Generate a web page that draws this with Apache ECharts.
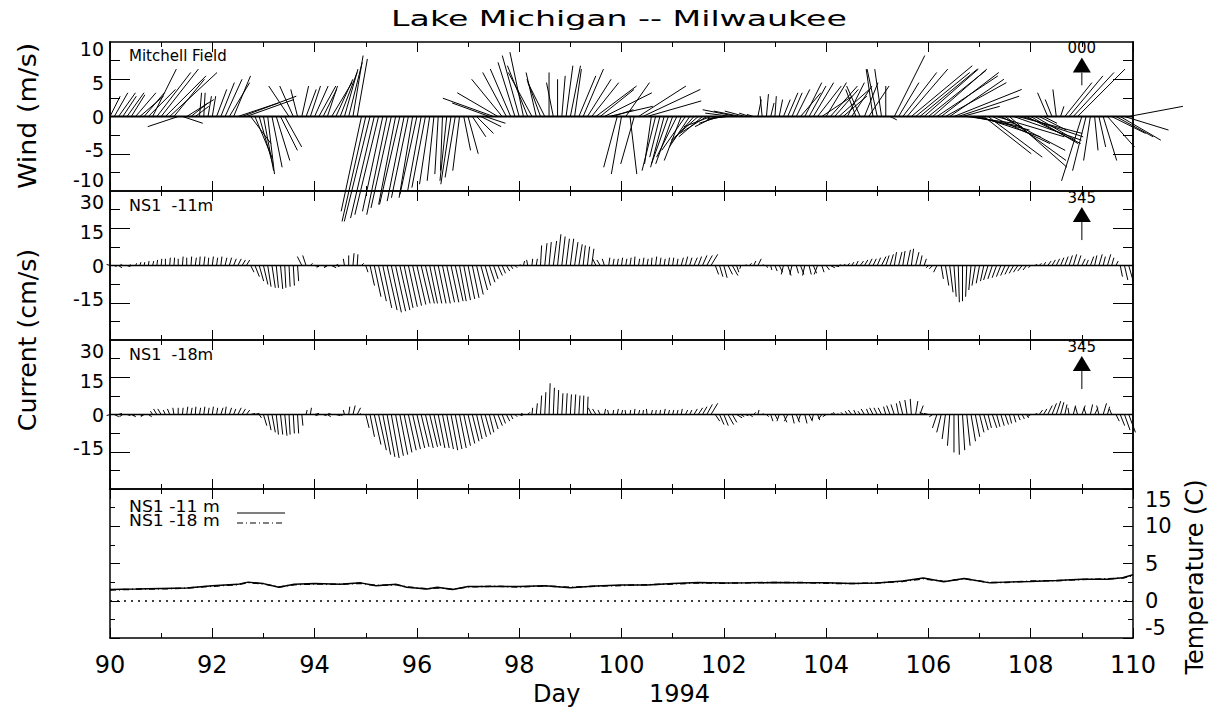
<!DOCTYPE html>
<html><head><meta charset="utf-8">
<script src="https://cdn.jsdelivr.net/npm/echarts@6/dist/echarts.min.js"></script>
<style>html,body{margin:0;padding:0;background:#fff}#c{width:1217px;height:719px}</style>
</head><body><div id="c"></div><script>
// ---------------- data ----------------
const dayMin = 90, dayMax = 110;
const xTickLabels = [90, 92, 94, 96, 98, 100, 102, 104, 106, 108, 110];
// Wind (m/s), Mitchell Field, 2-hourly samples starting day 90 (12 per day)
const windStart = 90, windStep = 1 / 12;
const windU = [
 1.5,2,2.5,2,2.5,2,3,3.5,3,4,3.5,5,
 5.5,6,7,4.5,-4.5,3,4,2.5,2,0.3,0.2,0.5,
 0.5,1.5,2,2.5,3,2.5,6,8,7,3,2.5,2,
 1.5,1,1.5,2,2.5,2.5,-3,-2,-1,1,1.5,1.5,
 2,2.5,2,1.5,3,2.5,2.5,2,2,1.5,1.5,-3,
 -3.5,-3.8,-3.5,-3.5,-3,-3,-3,-2.5,-3,-2.5,-2.5,-2,
 -2.5,-2,-2,-1.5,-1,-0.5,-0.3,-1,-1.5,-1.5,-1,1,
 1.5,2,2.5,3,3,-5.5,-7.5,-6,-4.5,-3.5,-3,-2.5,
 -2.5,-2,-3,-3.5,-1.5,-2,-2.5,0,-1,0,0.5,1,
 1.5,1,2.5,3,3.5,4,6,5,7,6.5,3,-2,
 -1.5,3.5,1,-2,7,8.5,8,-1,-2,-1.5,-2,-2.5,
 -2.5,-3,-2.5,-3.5,-3,-3.5,-4,-3.5,-4,-4,-3,-3,
 -2.5,-3,-4,-5,-4,-3,-1.5,-1,0.5,-0.3,0.3,0.5,
 0.2,0.5,1,1.5,1.5,2,3,2.5,2.5,3,3.5,4.5,
 3,4,3.5,4.5,3.5,2.5,3,-1.5,-2,2,3,-1,
 -1.5,-1,0,1,4.5,3,5,6,9,8,8.5,8,
 8.5,8,9,8.5,9,8,10,9,5.5,7,7.5,8,
 9,7,8,8.5,10,9.5,9,8.5,10,9.5,9,8,
 7,6,4,2,-1.5,-1,-0.5,0.5,4,5,6,7,
 -3,-2,-1,0.5,1,2,4,5,5.5,6,6.5,8
];
const windV = [
 3,3.5,3.5,3,3.5,3.2,3.5,3,3.5,4,7,6.5,
 7,6,6.5,5.5,-1.5,-1,2.5,2,1.5,3.5,3.5,3,
 3,4,5,5.5,5,6,2,3,2.5,-4,-6,-7,
 -8,-8.5,-7.5,-6.5,-5,-4.5,4.5,4.5,4,4.5,4,4.5,
 4.5,4.5,4,4.5,5,5.5,6.5,7,8,9,8.5,-14,
 -15.5,-15.5,-15,-14.5,-14,-14.5,-13.5,-13,-13,-12.5,-12,-12,
 -11.5,-11,-10.5,-10,-9.5,-8.5,-8,-9.5,-10,-9,-8,-5,
 -5.5,-3,-2.5,-1.5,-1,2,2.7,3.5,5.5,6.5,7,8,
 9,9.5,7.5,6.5,6.5,5.5,5,6.5,5,5.5,6,7.5,
 7.5,7,6,7,5.5,5,4.5,4,3.5,1.5,1,-7.5,
 -8.5,5,-8.5,-7,4.5,4,2.3,-7,-8,-6,-7.5,-7,
 -7,-6,-6.5,-5,-4.5,-4,-3.5,-3,-2.5,-1.5,-1.5,-1,
 -0.5,-0.3,0.5,1,0.8,0.8,0.5,0.3,2.5,3,3.3,2,
 3,2.5,2.5,3.5,3.5,4,3.5,5,4.5,5,4.5,3,
 5,4.5,4,4,3,5,4.5,4,4.5,5,4.5,7,
 7,7,4.5,-0.5,9,5,6.5,7,7.5,6.5,7,7,
 6.8,7,6,6.5,5,5.5,4,3,1.5,-1,-1.5,-2,
 -3,-5.5,-6,-4,-3,-5,-6.5,-7.5,-3.5,-2.5,-3,-4,
 -4,-3.5,-2,-1,3.5,2.5,4,1.5,5,6,6.5,7,
 -9.5,-8,-6.5,-5,-4.5,-6.5,-4.5,-2.5,-3,-3.5,-2,1.5
];
// Currents (cm/s), 2-hourly samples starting day 90
const curStart = 90, curStep = 1 / 12;
const cur11U = [
 -1.5,1,1.5,-1,1.5,-0.5,0.5,0.5,0.3,0.3,0.5,0.3,
 0.3,0,0.3,0.3,0,0.3,0,0.3,0.5,0.3,0.5,0.3,
 0.5,0.5,0.5,0.8,1,1.2,1.5,1.5,1.5,1.5,2,2,
 2,1.5,1.5,1,1,0.5,0.5,0.5,0.5,-2,-1.5,1,
 2,-1,1.5,-1.5,2,1,-1,-0.5,0,0.5,0.3,1,
 1,2,3,3.5,4,4.5,4.5,4.5,4.5,4,4,4,
 4,4,4,3.5,3.5,3.5,3.5,3.5,3.5,3.5,3,3,
 3,3,3,3,2.5,2.5,2,2,1.5,1.5,1,1,
 0.5,0.5,-0.5,0.3,0.5,0.5,1,1,1.5,1.5,1.5,1.5,
 1.5,1.5,1.5,1,1,1,-1.5,-1.5,-1,0.5,0.5,0.5,
 0.5,0.5,0.5,0.3,0.5,0.5,0.5,0.3,0.5,0.5,0.5,0.5,
 0.5,0.5,1,1,1,1.5,1.5,2,2.5,3,1.5,1.5,
 1.5,2,2.5,1,-0.5,0.5,1,1,1.5,0.5,0.5,0.5,
 1,1.5,-1,1.5,-1,1,1.5,-1,1,1.5,-1.5,1,
 1.5,2,2,1,1,1,1,1,1.5,1.5,1.5,1.5,
 1.5,2,1.5,1.5,1,1.5,1,1.5,1,1.5,1,1,
 -1,-1.5,-1.5,1,1.5,1.5,1,0.5,0,-0.5,-1,-1.5,
 -1.5,-1.5,-2,-2,-2,-2,-2,-2,-2,-2,-2,-1.5,
 -1,1,1,1,1.5,1.5,1.5,1.5,1.5,1.5,1.5,1.5,
 1.5,1,1.5,1,1.5,1,1.5,1,1,1,1.5,2
];
const cur11V = [
 0.5,-0.5,-1,0.5,-0.5,0.5,1,1.5,1.5,2,2,2.5,
 3,3,3.5,3.5,3,4,3.5,4,3.5,4,4,3.5,
 4,3.5,4,3.5,3.5,3,3,2.5,2.5,-3,-5,-7,
 -8.5,-9.5,-10,-10,-10.5,-10,-9.5,-9,-7,4,4.5,1,
 -0.5,-1,-0.5,-1,-1,0.5,-0.5,3,4.5,5.5,5,1,
 -3,-9,-14,-16,-19,-20,-21,-20.5,-20,-19,-18.5,-18,
 -17.5,-17,-17,-17,-17,-17,-17,-16.5,-16.5,-16,-16,-15.5,
 -15,-14.5,-13,-11,-9,-7.5,-6,-4.5,-3.5,-2.5,-1.5,-1,
 0.5,2,2.5,3,3,9,10,10.5,11,14,13,12,
 12,10.5,9.5,9,8.5,7.5,3,2.5,3,3.5,3,3,
 3.5,3,3.5,4,3,3.5,3,3.5,4,3.5,3,3.5,
 3.5,3,3.5,4,3.5,3.5,4,4.5,4.5,5,-4,-5,
 -5.5,-4,-4.5,-3,-1.5,0.5,1,2,3,0.5,-1,-2,
 -2.5,-3,-4,-4.5,-4,-3.5,-4,-4.5,-4,-3.5,-4,-3,
 -2,-1,-0.5,0.3,0.5,1,1.5,2,2,2.5,3,3,
 3.5,4,4.5,5,6,6,6.5,7,7.5,6,4.5,3,
 -1,-1.5,-3,-6,-9,-12,-14,-16.5,-16,-14,-11,-9,
 -8,-7,-6.5,-6,-5.5,-5,-4.5,-4,-3.5,-3,-2.5,-2,
 -1,0.5,1,1.5,2,2.5,3,3.5,4,4.5,5,4.5,
 3,2.5,4,4.5,5,4,5,3.5,2,-5,-6.5,-7
];
const cur18U = [
 -1.5,2,1.5,-1.5,1.5,2,-1,1,-1.5,1.5,-1,-1.5,
 -1.5,-1,-1,-0.5,0,0.3,0.5,0.5,0.3,0.5,0.5,0.5,
 0.5,0.5,1,0.5,1,1,1.5,1.5,1.5,2,2,1,
 1.5,1.5,1.5,1,1,1,0.5,0.5,0.5,0.5,0.5,0.5,
 2,-1.5,1.5,1.5,-1.5,2,1,-0.5,0.5,1,1.5,-0.5,
 1.5,2,3,3.5,3.5,3.5,3.5,3.5,3.5,3.5,3.5,3.5,
 3.5,3.5,3.5,3.5,3,3,3,3,3,3,3,3,
 3,3,2.5,2.5,2.5,2,2,2,1.5,1.5,1,1,
 1.5,-1,1,0.3,0.5,0.5,0.5,0.5,0.5,0.5,0.5,0.5,
 0.5,0.5,0.5,0.3,0.3,-1.5,-1.5,-1,0.5,-0.5,0.3,0.5,
 0.5,-0.3,0.3,0.3,0.5,0.3,-0.3,0.5,0.3,0.3,0.5,0.5,
 0.5,0.5,0.5,1,1,1.5,2,2,2.5,3,2,2,
 2,2.5,2,2.5,1.5,1.5,1.5,1,0.5,0.5,1,1,
 1,-1,1.5,-1.5,1,1.5,-1,1,1.5,-0.5,1,-1.5,
 -1.5,1,-0.5,-0.5,-1,-1,-1.5,-1,-1,-1.5,-1,-1.5,
 -1.5,-1.5,-1,-1.5,-1.5,-1,-1.5,-1,-0.5,1,1.5,-2,
 -2,-1.5,-2,-2,-1.5,-1,0,0.5,1,1.5,2,2,
 2,2,1.5,2,1.5,1.5,1.5,1,1,1,1,1,
 -1.5,1,1.5,1.5,2,2,2,1.5,1,-0.5,1,-1,
 1.5,-1,1,1.5,-1,1.5,1,-1,1.5,2,2.5,3
];
const cur18V = [
 -0.5,-1,0.5,-1,-0.5,-1,-0.5,-0.5,-1,-1,1.5,2.5,
 2.5,2,2.5,3,3,3,3.5,3,3.5,3,3.5,3,
 3.5,3,3,3.5,3,2.5,3,2.5,2,0.5,0.5,-1.5,
 -5,-7,-8,-9,-9,-9.5,-9,-8.5,-8.5,-5,2,3,
 0.5,-0.5,-0.5,-1,0.5,-0.5,-0.5,2,3.5,4,3,0.5,
 -6,-10,-13.5,-16,-18,-19,-19.5,-18.5,-18,-17,-16,-15.5,
 -15,-14.5,-15,-14.5,-14,-15,-15,-15.5,-16,-15.5,-15,-14,
 -13,-12,-11,-10,-9,-8,-6.5,-5,-4,-3,-2,-1,
 -0.5,0.5,1,3,5,8.5,10,14,12,11,9.5,9.5,
 9,9,8.5,8.5,8,3,2.5,2,2.5,2,2,2.5,
 2,2,2,2.5,2,2,2.5,2,2,2,2.5,2,
 2,2,2.5,2,2,2.5,3,3.5,4.5,5,-3,-4.5,
 -5,-4.5,-3.5,-1.5,-1,-0.5,-1,1,2,0.5,-1,-3,
 -2,-3,-3.5,-3,-4,-3.5,-3,-4,-3,-2.5,-2.5,-2,
 -1,0.5,1,0.5,1,1.5,2,2,1.5,2.5,2.5,3,
 3,3,3.5,4,4.5,5,6,6.5,7,6,4,1,
 0.5,-1,-6,-8,-11,-14,-17,-18,-16,-14,-12,-10,
 -8,-7,-6,-6,-5.5,-5,-4.5,-4,-3.5,-2.5,-2,-1.5,
 -1,0.5,2,2.5,4,5,6,5.5,4.5,3,4,3.5,
 4,3,4.5,3,4,5,3.5,2.5,-3,-5,-7,-8
];
// Temperature (C)
const tempDays = [90,90.5,91,91.5,92,92.5,92.7,93,93.3,93.6,94,94.5,94.9,95.2,95.6,95.8,96.2,96.4,96.7,97,97.5,98,98.5,99,99.5,100,100.5,101,101.5,102,102.5,103,103.5,104,104.5,105,105.5,105.9,106.3,106.7,107.2,107.5,108,108.5,109,109.5,109.8,110];
const temp11 = [1.5,1.57,1.65,1.7,2.0,2.2,2.5,2.3,1.8,2.2,2.3,2.2,2.4,2.0,2.2,1.8,1.57,1.8,1.5,1.9,1.9,1.9,2.0,1.75,1.97,2.1,2.1,2.3,2.46,2.37,2.4,2.46,2.4,2.4,2.3,2.37,2.64,3.04,2.55,3.0,2.4,2.5,2.6,2.73,2.9,2.9,3.1,3.5];
const temp18 = [1.45,1.55,1.6,1.7,1.95,2.15,2.45,2.25,1.85,2.15,2.25,2.2,2.35,2.05,2.15,1.85,1.6,1.75,1.55,1.85,1.95,1.85,2.0,1.8,1.95,2.05,2.15,2.25,2.4,2.35,2.4,2.45,2.45,2.35,2.3,2.4,2.6,2.95,2.6,2.95,2.45,2.45,2.65,2.7,2.85,2.95,3.05,3.4];
// axis ranges / labels
const windRange = 11, curRange = 33.4;
const windLabels = [-10, -5, 0, 5, 10];
const curLabels = [-15, 0, 15, 30];
// reference arrows: [day, from, to]
const windArrow = [109, 4.6, 8.7], windArrowText = '000';
const curArrow = [109, 11.4, 26.2], curArrowText = '345';

// ---------------- chart ----------------
const FONT = 'DejaVu Sans';
const L = 110, R = 1217 - 1133, H = 149;
const tops = [42, 191, 340, 489];
const chart = echarts.init(document.getElementById('c'), null, {renderer: 'svg'});
const black = '#000';

function xAx(g, pos, labels) {
  return {
    type: 'value', gridIndex: g, min: dayMin, max: dayMax, interval: 2, position: pos,
    axisLine: {onZero: false, lineStyle: {color: black, width: 1.5}},
    axisTick: {inside: true, length: 10, lineStyle: {color: black, width: 1}},
    minorTick: {show: true, splitNumber: 2, length: 5, lineStyle: {color: black, width: 1}},
    splitLine: {show: false},
    axisLabel: labels ? {show: true, margin: 15, color: black, fontFamily: FONT, fontSize: 24,
      customValues: xTickLabels} : {show: false},
    name: labels ? 'Day         1994' : '', nameLocation: 'middle', nameGap: 44,
    nameTextStyle: {color: black, fontFamily: FONT, fontSize: 24}
  };
}
const labelRich = {
  lo: {padding: [0, 0, 9, 0], fontFamily: FONT, fontSize: 19, color: black},
  hi: {padding: [7, 0, 0, 0], fontFamily: FONT, fontSize: 19, color: black}
};
function yAx(g, pos, range, ticks, tlen, labels, shiftUp, shiftDown) {
  return {
    type: 'value', gridIndex: g, min: -range, max: range, position: pos,
    axisLine: {onZero: false, lineStyle: {color: black, width: 1.5}},
    axisTick: {inside: true, length: tlen, customValues: ticks, lineStyle: {color: black}},
    splitLine: {show: false},
    axisLabel: labels ? {show: true, customValues: labels, margin: 6, color: black, fontFamily: FONT, fontSize: 19,
      rich: labelRich,
      formatter: v => v === shiftUp ? '{lo|' + v + '}' : (v === shiftDown ? '{hi|' + v + '}' : String(v))} : {show: false}
  };
}
const xAxis = [], yAxis = [];
for (let g = 0; g < 4; g++) { xAxis.push(xAx(g, 'bottom', g === 3)); xAxis.push(xAx(g, 'top', false)); }
const wq = windRange / 4, cq = curRange / 4;
yAxis.push(yAx(0, 'left', windRange, [-2 * wq, 2 * wq], 20, windLabels, -10, null));
yAxis.push(yAx(0, 'left', windRange, [-3 * wq, -wq, wq, 3 * wq], 10, null));
yAxis.push(yAx(0, 'right', windRange, [-2 * wq, 2 * wq], 20, null));
yAxis.push(yAx(0, 'right', windRange, [-3 * wq, -wq, wq, 3 * wq], 10, null));
for (const g of [1, 2]) {
  yAxis.push(yAx(g, 'left', curRange, [-2 * cq, 2 * cq], 20, curLabels, null, 30));
  yAxis.push(yAx(g, 'left', curRange, [-3 * cq, -cq, cq, 3 * cq], 10, null));
  yAxis.push(yAx(g, 'right', curRange, [-2 * cq, 2 * cq], 20, null));
  yAxis.push(yAx(g, 'right', curRange, [-3 * cq, -cq, cq, 3 * cq], 10, null));
}
yAxis.push({type: 'value', gridIndex: 3, min: -5, max: 15, interval: 5, position: 'left',
  axisLine: {onZero: false, lineStyle: {color: black, width: 1.5}},
  axisTick: {inside: true, length: 10, lineStyle: {color: black}},
  minorTick: {show: true, splitNumber: 2, length: 5, lineStyle: {color: black}},
  splitLine: {show: false}, axisLabel: {show: false}});
yAxis.push({type: 'value', gridIndex: 3, min: -5, max: 15, interval: 5, position: 'right',
  axisLine: {onZero: false, lineStyle: {color: black, width: 1.5}},
  axisTick: {inside: true, length: 10, lineStyle: {color: black}},
  minorTick: {show: true, splitNumber: 2, length: 5, lineStyle: {color: black}},
  splitLine: {show: false},
  axisLabel: {show: true, margin: 12, color: black, fontFamily: FONT, fontSize: 21,
    verticalAlignMaxLabel: 'top', verticalAlignMinLabel: 'bottom'}});

function stickItem(params, api) {
  const t = api.value(0), u = api.value(1), v = api.value(2);
  const p = api.coord([t, 0]);
  const k = api.size([0, 1])[1];
  return {type: 'line', shape: {x1: p[0], y1: p[1], x2: p[0] + u * k, y2: p[1] - v * k},
    style: {stroke: black, lineWidth: 1}};
}
function stickSeries(g, yi, start, step, U, V) {
  return {type: 'custom', xAxisIndex: 2 * g, yAxisIndex: yi, clip: false, silent: true,
    renderItem: stickItem, encode: {x: 0, y: 2},
    data: U.map((u, i) => [start + i * step, u, V[i]])};
}
function arrowSeries(g, yi, arr, label) {
  return {type: 'custom', xAxisIndex: 2 * g, yAxisIndex: yi, clip: false, silent: true,
    encode: {x: 0, y: 2}, data: [arr],
    renderItem: function (params, api) {
      const p0 = api.coord([api.value(0), api.value(1)]);
      const p1 = api.coord([api.value(0), api.value(2)]);
      const th = 15, tw = 9, x = p0[0], ty = p1[1];
      return {type: 'group', children: [
        {type: 'line', shape: {x1: x, y1: p0[1], x2: x, y2: ty + th}, style: {stroke: black, lineWidth: 1}},
        {type: 'polygon', shape: {points: [[x, ty], [x - tw, ty + th], [x + tw, ty + th]]}, style: {fill: black}},
        {type: 'text', x: x, y: ty - 2, style: {text: label, align: 'center', verticalAlign: 'bottom',
          font: '15px ' + FONT, fill: black}}
      ]};
    }};
}
function baseLine(g, yi, x1, w) {
  return {type: 'line', xAxisIndex: 2 * g, yAxisIndex: yi, clip: false, silent: true, symbol: 'none',
    data: [[dayMin, 0], [x1, 0]], lineStyle: {color: black, width: w}};
}

const series = [
  baseLine(0, 0, 111.4, 2),
  stickSeries(0, 0, windStart, windStep, windU, windV),
  arrowSeries(0, 0, windArrow, windArrowText),
  baseLine(1, 4, dayMax, 1.5),
  stickSeries(1, 4, curStart, curStep, cur11U, cur11V),
  arrowSeries(1, 4, curArrow, curArrowText),
  baseLine(2, 8, dayMax, 1.5),
  stickSeries(2, 8, curStart, curStep, cur18U, cur18V),
  arrowSeries(2, 8, curArrow, curArrowText),
  {type: 'line', name: 'NS1 -11 m', xAxisIndex: 6, yAxisIndex: 13, symbol: 'none',
    data: tempDays.map((d, i) => [d, temp11[i]]), lineStyle: {color: black, width: 1.5},
    markLine: {silent: true, symbol: 'none', label: {show: false},
      lineStyle: {color: black, type: [2, 5], width: 1.5}, data: [{yAxis: 0}]}},
  {type: 'line', name: 'NS1 -18 m', xAxisIndex: 6, yAxisIndex: 13, symbol: 'none',
    data: tempDays.map((d, i) => [d, temp18[i]]), lineStyle: {color: black, width: 1.5, type: [6, 3, 1, 3]}}
];

function txt(x, y, text, size, extra) {
  return Object.assign({type: 'text', x: x, y: y, silent: true,
    style: {text: text, font: size + 'px ' + FONT, fill: black, align: 'left', verticalAlign: 'middle'}}, extra || {});
}
function ctxt(x, y, text, size, extra) {
  return Object.assign({type: 'text', x: x, y: y, silent: true,
    style: {text: text, font: size + 'px ' + FONT, fill: black, align: 'center', verticalAlign: 'middle'}}, extra || {});
}
const graphic = [
  ctxt(619, 19, 'Lake Michigan -- Milwaukee', 21, {scaleX: 1.58}),
  ctxt(28, 116, 'Wind (m/s)', 24, {rotation: Math.PI / 2, scaleX: 1.12}),
  ctxt(28, 340, 'Current (cm/s)', 24, {rotation: Math.PI / 2, scaleX: 1.05}),
  ctxt(1195, 577, 'Temperature (C)', 24, {rotation: Math.PI / 2}),
  txt(129, 56, 'Mitchell Field', 15),
  txt(129, 205, 'NS1  -11m', 16),
  txt(129, 354, 'NS1  -18m', 16),
  txt(129, 507, 'NS1 -11 m', 15, {scaleX: 1.15}),
  txt(129, 521, 'NS1 -18 m', 15, {scaleX: 1.15}),
  {type: 'line', silent: true, shape: {x1: 237, y1: 513, x2: 285, y2: 513}, style: {stroke: black, lineWidth: 1}},
  {type: 'line', silent: true, shape: {x1: 237, y1: 523, x2: 285, y2: 523}, style: {stroke: black, lineWidth: 1, lineDash: [6, 3, 1, 3]}}
];

chart.setOption({
  backgroundColor: '#fff',
  animation: false,
  grid: tops.map(t => ({left: L, right: R, top: t, height: H, containLabel: false})),
  xAxis: xAxis, yAxis: yAxis, series: series, graphic: graphic
});
</script></body></html>
